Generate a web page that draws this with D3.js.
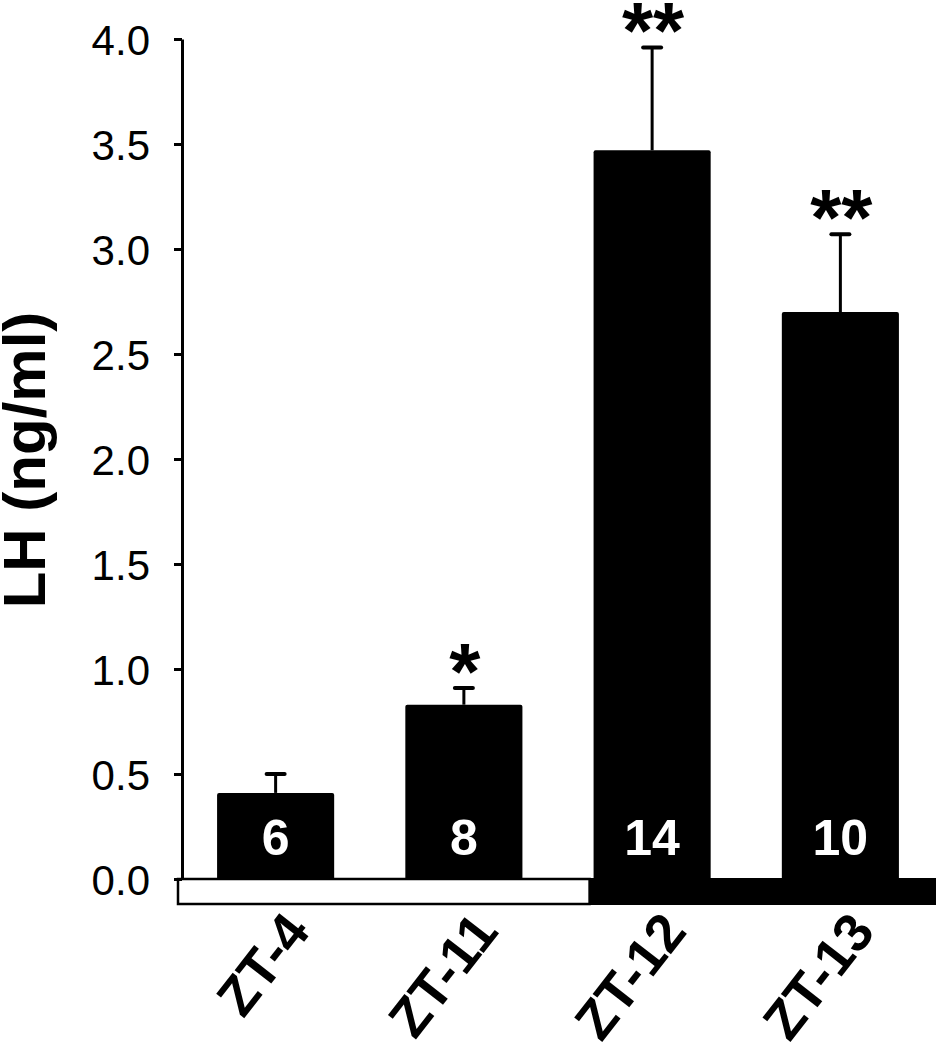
<!DOCTYPE html>
<html>
<head>
<meta charset="utf-8">
<script src="https://cdn.jsdelivr.net/npm/d3@7"></script>
<style>
  html, body { margin: 0; padding: 0; background: #fff; }
  svg { display: block; font-family: "Liberation Sans", Arial, sans-serif; }
</style>
</head>
<body>
<svg id="chart" width="937" height="1050"></svg>
<script>
// ---- data ----
const categories = ["ZT-4", "ZT-11", "ZT-12", "ZT-13"];
const lhMean = [0.41, 0.83, 3.47, 2.70];
const lhSem = [0.09, 0.08, 0.49, 0.37];
const nLabels = ["6", "8", "14", "10"];
const significance = ["", "*", "**", "**"];
const yTicks = [0, 0.5, 1.0, 1.5, 2.0, 2.5, 3.0, 3.5, 4.0];
const yTitle = "LH (ng/ml)";

// ---- layout ----
const svg = d3.select("#chart");
const y = d3.scaleLinear().domain([0, 4]).range([879, 39]);
const x = d3.scaleBand().domain(categories).range([181.5, 934.5])
  .paddingInner(0.378).paddingOuter(0.189);

// light/dark strip under x axis
const stripTop = y(0), stripBottom = y(0) + 26;
const darkStart = x("ZT-12") - 4;
svg.append("rect").attr("x", darkStart).attr("y", stripTop - 1)
  .attr("width", 936 - darkStart).attr("height", stripBottom - stripTop + 1)
  .attr("fill", "#000");
svg.append("rect").attr("x", 178).attr("y", stripTop)
  .attr("width", darkStart - 178).attr("height", stripBottom - stripTop - 1)
  .attr("fill", "#fff").attr("stroke", "#000").attr("stroke-width", 2.5);

// bars
const data = categories.map((c, i) => ({ c, m: lhMean[i], s: lhSem[i], n: nLabels[i], sig: significance[i] }));
svg.selectAll("rect.bar").data(data).enter().append("rect")
  .attr("class", "bar")
  .attr("x", d => x(d.c)).attr("width", x.bandwidth())
  .attr("y", d => y(d.m)).attr("height", d => y(0) - y(d.m) + 1)
  .attr("rx", 2).attr("fill", "#000");

// error bars
const eb = svg.selectAll("g.eb").data(data).enter().append("g").attr("class", "eb");
eb.append("line")
  .attr("x1", d => x(d.c) + x.bandwidth() / 2).attr("x2", d => x(d.c) + x.bandwidth() / 2)
  .attr("y1", d => y(d.m)).attr("y2", d => y(d.m + d.s))
  .attr("stroke", "#000").attr("stroke-width", 3);
eb.append("line")
  .attr("x1", d => x(d.c) + x.bandwidth() / 2 - 9).attr("x2", d => x(d.c) + x.bandwidth() / 2 + 9)
  .attr("y1", d => y(d.m + d.s)).attr("y2", d => y(d.m + d.s))
  .attr("stroke", "#000").attr("stroke-width", 4).attr("stroke-linecap", "round");

// significance
svg.selectAll("text.sig").data(data).enter().append("text")
  .attr("class", "sig")
  .attr("x", d => x(d.c) + x.bandwidth() / 2 + 1)
  .attr("y", d => y(d.m + d.s) + 11)
  .attr("text-anchor", "middle")
  .attr("font-size", 80).attr("font-weight", "bold")
  .text(d => d.sig);

// n labels
svg.selectAll("text.n").data(data).enter().append("text")
  .attr("class", "n")
  .attr("x", d => x(d.c) + x.bandwidth() / 2)
  .attr("y", 855)
  .attr("text-anchor", "middle")
  .attr("font-size", 50).attr("font-weight", "bold").attr("fill", "#fff")
  .text(d => d.n);

// y axis
const yAxis = d3.axisLeft(y).tickValues(yTicks).tickFormat(d3.format(".1f"))
  .tickSize(8).tickPadding(24).tickSizeOuter(0);
const gy = svg.append("g").attr("transform", "translate(182,0)").call(yAxis);
gy.select(".domain").attr("stroke-width", 3);
gy.selectAll(".tick line").attr("stroke-width", 3);
gy.selectAll(".tick text").attr("font-size", 42).attr("font-family", "Liberation Sans, Arial, sans-serif")
  .attr("fill", "#000").attr("dy", "0.36em");

// y title
svg.append("text")
  .attr("transform", "translate(45,460) rotate(-90)")
  .attr("text-anchor", "middle")
  .attr("font-size", 60).attr("font-weight", "bold")
  .text(yTitle);

// x labels
svg.selectAll("text.xl").data(categories).enter().append("text")
  .attr("class", "xl")
  .attr("transform", d => `translate(${x(d) + x.bandwidth() / 2 + 36},932) rotate(-52)`)
  .attr("text-anchor", "end")
  .attr("font-size", 54).attr("font-weight", "bold")
  .text(d => d);
</script>
</body>
</html>
